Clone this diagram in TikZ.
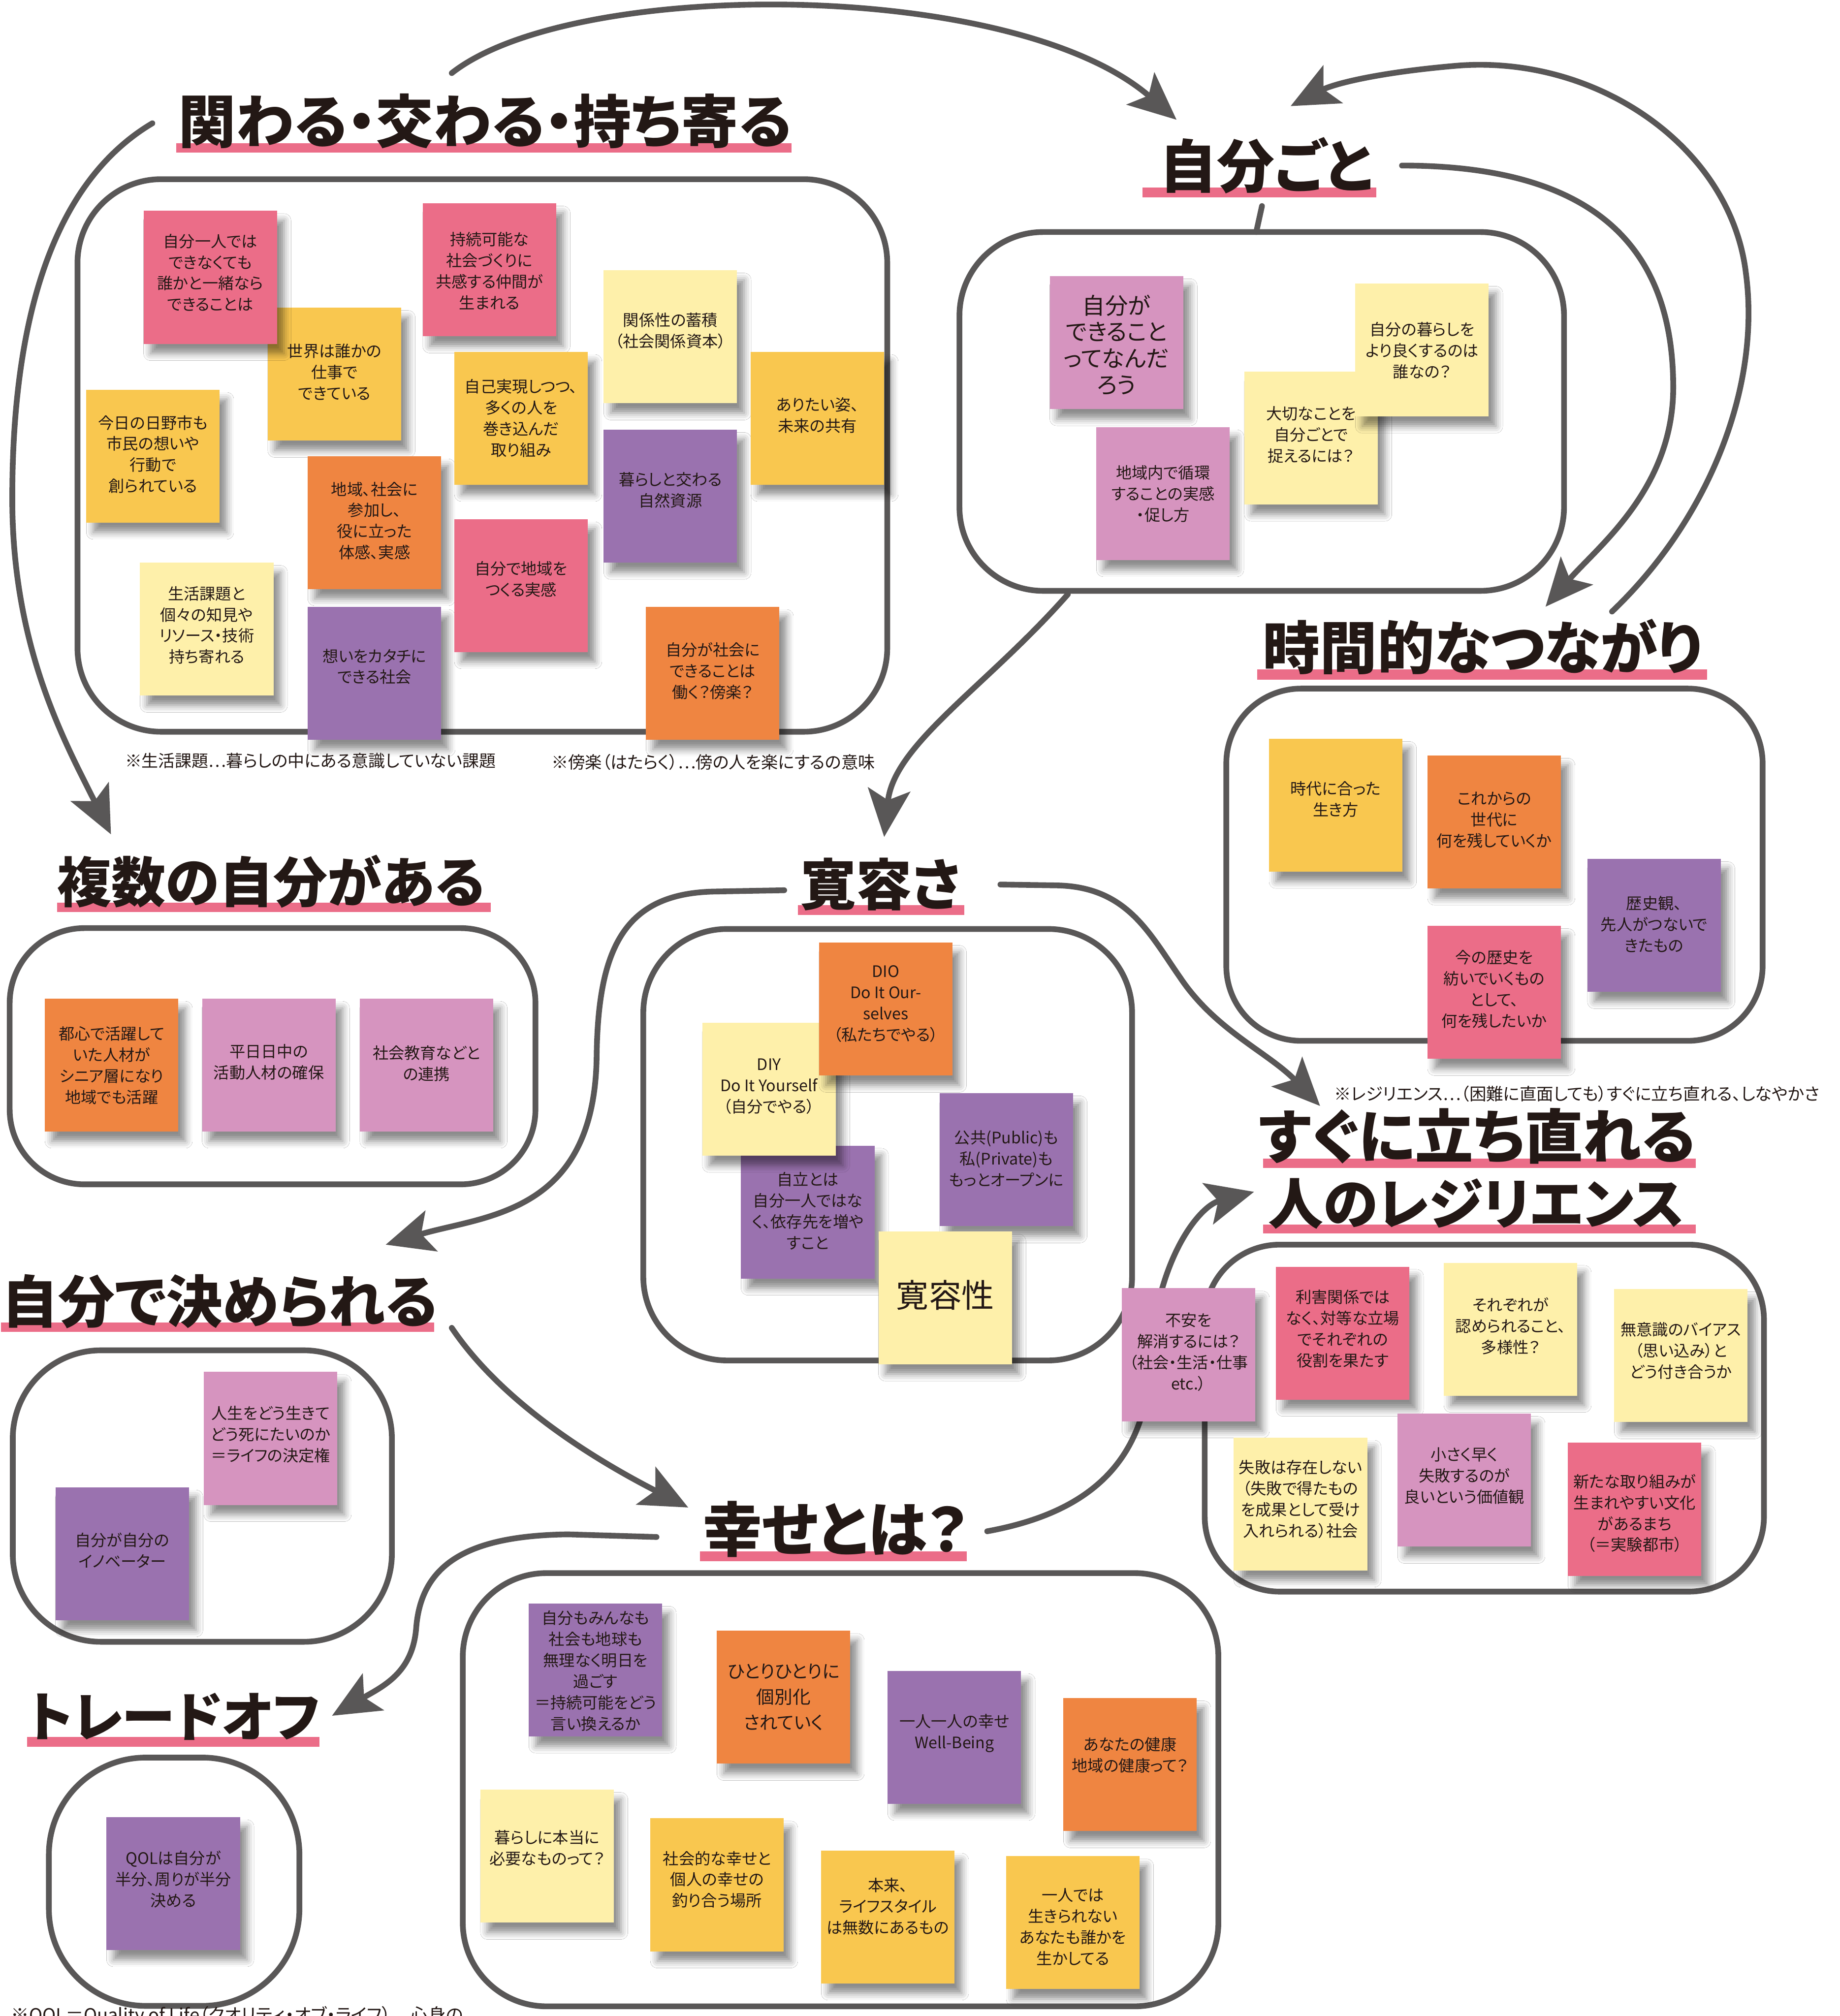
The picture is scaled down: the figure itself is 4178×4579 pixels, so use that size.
\documentclass[tikz,border=0pt]{standalone}
\usepackage{fontspec}
\usepackage{graphicx}
\newfontfamily\jp[RawFeature={+palt}]{Noto Sans CJK JP}
\usetikzlibrary{fit,shadows.blur,arrows.meta}
\definecolor{lineg}{HTML}{595757}
\definecolor{ink}{HTML}{231815}
\definecolor{npink}{HTML}{EB6D88}
\definecolor{nyel}{HTML}{F9C74F}
\definecolor{nlyel}{HTML}{FEF0AA}
\definecolor{norg}{HTML}{EF8541}
\definecolor{npur}{HTML}{9A72AF}
\definecolor{nmau}{HTML}{D694BF}
\tikzset{
  notebox/.style={inner sep=0pt, outer sep=0pt, draw=none,
    blur shadow={shadow xshift=8pt, shadow yshift=-11pt, shadow blur radius=8pt, shadow opacity=45}},
  nt/.style={align=center, inner sep=0pt, text=ink, font=\jp\fontsize{18}{24}\selectfont},
  ntbig/.style={font=\jp\fontsize{26}{30}\selectfont},
  ntmid/.style={font=\jp\fontsize{20.5}{29}\selectfont},
  nthuge/.style={font=\jp\fontsize{37}{40}\selectfont},
  grpbox/.style={draw=lineg, line width=6.5pt, inner sep=0pt, outer sep=0pt},
  hdt/.style={inner sep=0pt, text=ink, font=\jp\bfseries\fontsize{60}{60}\selectfont},
  fn/.style={inner sep=0pt, text=ink, font=\jp\fontsize{18}{20}\selectfont},
  con/.style={draw=lineg, line width=6.5pt, line cap=round,
    -{Stealth[length=54pt,width=48pt,inset=12pt]}},
  conl/.style={draw=lineg, line width=6.5pt, line cap=round},
}
\newcommand\stk[7]{%
  \pgfmathsetmacro\sxr{#2+303}\pgfmathsetmacro\syb{#3+302}\pgfmathsetmacro\sxc{#2+151.5}%
  \node[notebox, fill=#4, fit={(#2,#3) (\sxr,\syb)}] (#1) {};
  \node[nt,#6] (#1t) at (\sxc,#5) {#7};}
\newcommand\grp[6][95]{\node[grpbox, rounded corners=#1pt, fit={(#3,#4) (#5,#6)}] (#2) {};}
\newcommand\hd[8]{%
  \fill[npink] (#4,#3) rectangle (#5,#6);
  \pgfmathsetmacro\hw{#7*0.5}%
  \node[hdt, anchor=base west] (#1) at (#2,#3) {\resizebox{\hw pt}{!}{#8}};}
\begin{document}
\begin{tikzpicture}[x=0.5pt,y=-0.5pt]
\useasboundingbox (0,0) rectangle (4178,4579);
\fill[white] (0,0) rectangle (4178,4579);
% group boxes
\grp{B1}{176}{407}{2015}{1662}
\grp{B2}{2179}{527}{3552}{1342}
\grp[85]{B3}{2785}{1564}{4003}{2364}
\grp[85]{B4}{22}{2108}{1216}{2690}
\grp{B5}{1461}{2110}{2571}{3090}
\grp[100]{B6}{29}{3067}{890}{3729}
\grp[85]{B7}{2736}{2827}{4006}{3615}
\grp{B8}{1051}{3573}{2767}{4557}
\grp[110]{B9}{111}{3992}{680}{4556}
% connectors
\coordinate (k1s) at (1026,166); \coordinate (k1e) at (2672,272);
\draw[con] (k1s) .. controls (1300,-50) and (2300,-50) .. (k1e);
\coordinate (k2s) at (3661,1389); \coordinate (k2e) at (2931,241);
\draw[con] (k2s) .. controls (3880,1180) and (4000,880) .. (3965,620) .. controls (3930,330) and (3620,120) .. (3300,150) .. controls (3130,165) and (3030,190) .. (k2e);
\coordinate (k3s) at (3184,376); \coordinate (k3e) at (3510,1378);
\draw[con] (k3s) .. controls (3620,376) and (3800,560) .. (3800,880) .. controls (3800,1110) and (3630,1240) .. (k3e);
\coordinate (k4s) at (346,280); \coordinate (k4e) at (252,1895);
\draw[con] (k4s) .. controls (110,420) and (25,750) .. (28,1150) .. controls (32,1480) and (150,1690) .. (k4e);
\coordinate (k5s) at (2425,1350); \coordinate (k5e) at (2008,1901);
\draw[con] (k5s) .. controls (2240,1560) and (2030,1690) .. (k5e);
\coordinate (k6s) at (1781,2022); \coordinate (k6e) at (876,2827);
\draw[con] (k6s) -- (1620,2025) .. controls (1420,2030) and (1358,2150) .. (1355,2400) .. controls (1350,2760) and (1100,2760) .. (k6e);
\coordinate (k7s) at (2272,2009); \coordinate (k7e) at (2998,2512);
\draw[con] (k7s) -- (2400,2011) .. controls (2560,2014) and (2610,2120) .. (2680,2220) .. controls (2760,2340) and (2880,2390) .. (k7e);
\coordinate (k8s) at (1026,3016); \coordinate (k8e) at (1563,3424);
\draw[con] (k8s) .. controls (1150,3200) and (1380,3330) .. (k8e);
\coordinate (k9s) at (1491,3491); \coordinate (k9e) at (754,3897);
\draw[con] (k9s) -- (1290,3485) .. controls (1050,3488) and (955,3560) .. (945,3700) .. controls (936,3800) and (870,3830) .. (k9e);
\coordinate (k10s) at (2242,3478); \coordinate (k10e) at (2848,2707);
\draw[con] (k10s) .. controls (2450,3440) and (2600,3340) .. (2612,3100) .. controls (2622,2870) and (2720,2740) .. (k10e);
\coordinate (k11s) at (2866,468); \coordinate (k11e) at (2853,527);
\draw[conl] (k11s) -- (k11e);
% box 1
\stk{a2}{608}{699}{nyel}{845}{}{世界は誰かの\\仕事で\\できている}
\stk{a1}{326}{479}{npink}{619}{}{自分一人では\\できなくても\\誰かと一緒なら\\できることは}
\stk{a3}{196}{885}{nyel}{1032}{}{今日の日野市も\\市民の想いや\\行動で\\創られている}
\stk{a4}{318}{1278}{nlyel}{1420}{}{生活課題と\\個々の知見や\\リソース・技術\\持ち寄れる}
\stk{a5}{699}{1036}{norg}{1183}{}{地域、社会に\\参加し、\\役に立った\\体感、実感}
\stk{a6}{699}{1378}{npur}{1514}{}{想いをカタチに\\できる社会}
\stk{a7}{960}{462}{npink}{615}{}{持続可能な\\社会づくりに\\共感する仲間が\\生まれる}
\stk{a8}{1032}{799}{nyel}{950}{}{自己実現しつつ、\\多くの人を\\巻き込んだ\\取り組み}
\stk{a9}{1032}{1179}{npink}{1315}{}{自分で地域を\\つくる実感}
\stk{a10}{1371}{614}{nlyel}{751}{}{関係性の蓄積\\（社会関係資本）}
\stk{a11}{1371}{976}{npur}{1113}{}{暮らしと交わる\\自然資源}
\stk{a12}{1705}{799}{nyel}{943}{}{ありたい姿、\\未来の共有}
\stk{a13}{1467}{1378}{norg}{1524}{}{自分が社会に\\できることは\\働く？傍楽？}
% box 2
\stk{b1}{2384}{627}{nmau}{783}{ntbig}{自分が\\できること\\ってなんだ\\ろう}
\stk{b2}{2490}{970}{nmau}{1122}{}{地域内で循環\\することの実感\\・促し方}
\stk{b3}{2826}{844}{nlyel}{987}{}{大切なことを\\自分ごとで\\捉えるには？}
\stk{b4}{3078}{644}{nlyel}{796}{}{自分の暮らしを\\より良くするのは\\誰なの？}
% time box
\stk{c1}{2882}{1678}{nyel}{1815}{}{時代に合った\\生き方}
\stk{c2}{3242}{1716}{norg}{1862}{}{これからの\\世代に\\何を残していくか}
\stk{c3}{3605}{1951}{npur}{2099}{}{歴史観、\\先人がつないで\\きたもの}
\stk{c4}{3242}{2103}{npink}{2247}{}{今の歴史を\\紡いでいくもの\\として、\\何を残したいか}
% multiple selves
\stk{d1}{102}{2268}{norg}{2420}{}{都心で活躍して\\いた人材が\\シニア層になり\\地域でも活躍}
\stk{d2}{459}{2268}{nmau}{2412}{}{平日日中の\\活動人材の確保}
\stk{d3}{817}{2268}{nmau}{2416}{}{社会教育などと\\の連携}
% tolerance
\stk{e3}{1683}{2602}{npur}{2750}{}{自立とは\\自分一人ではな\\く、依存先を増や\\すこと}
\stk{e1}{1595}{2323}{nlyel}{2467}{}{DIY\\Do It Yourself\\（自分でやる）}
\stk{e2}{1860}{2141}{norg}{2280}{}{DIO\\Do It Our-\\selves\\（私たちでやる）}
\stk{e4}{2134}{2483}{npur}{2631}{}{公共(Public)も\\私(Private)も\\もっとオープンに}
\stk{e5}{1995}{2797}{nlyel}{2942}{nthuge}{寛容性}
% decide
\stk{f1}{463}{3116}{nmau}{3258}{}{人生をどう生きて\\どう死にたいのか\\＝ライフの決定権}
\stk{f2}{126}{3378}{npur}{3522}{}{自分が自分の\\イノベーター}
% resilience
\stk{g1}{2548}{2926}{nmau}{3071}{}{不安を\\解消するには？\\（社会・生活・仕事\\etc.）}
\stk{g2}{2898}{2877}{npink}{3018}{}{利害関係では\\なく、対等な立場\\でそれぞれの\\役割を果たす}
\stk{g3}{3279}{2868}{nlyel}{3012}{}{それぞれが\\認められること、\\多様性？}
\stk{g4}{3666}{2928}{nlyel}{3068}{}{無意識のバイアス\\（思い込み）と\\どう付き合うか}
\stk{g5}{2802}{3265}{nlyel}{3405}{}{失敗は存在しない\\（失敗で得たもの\\を成果として受け\\入れられる）社会}
\stk{g6}{3174}{3211}{nmau}{3352}{}{小さく早く\\失敗するのが\\良いという価値観}
\stk{g7}{3561}{3277}{npink}{3437}{}{新たな取り組みが\\生まれやすい文化\\があるまち\\（＝実験都市）}
% happiness
\stk{h1}{1201}{3642}{npur}{3795}{}{自分もみんなも\\社会も地球も\\無理なく明日を\\過ごす\\＝持続可能をどう\\言い換えるか}
\stk{h2}{1628}{3704}{norg}{3855}{ntmid}{ひとりひとりに\\個別化\\されていく}
\stk{h3}{2016}{3795}{npur}{3937}{}{一人一人の幸せ\\Well-Being}
\stk{h4}{2415}{3857}{norg}{3986}{}{あなたの健康\\地域の健康って？}
\stk{h5}{1091}{4065}{nlyel}{4197}{}{暮らしに本当に\\必要なものって？}
\stk{h6}{1477}{4130}{nyel}{4269}{}{社会的な幸せと\\個人の幸せの\\釣り合う場所}
\stk{h7}{1865}{4203}{nyel}{4330}{}{本来、\\ライフスタイル\\は無数にあるもの}
\stk{h8}{2285}{4216}{nyel}{4376}{}{一人では\\生きられない\\あなたも誰かを\\生かしてる}
% trade-off
\stk{i1}{242}{4127}{npur}{4268}{}{QOLは自分が\\半分、周りが半分\\決める}
% headings
\hd{H1}{405}{325}{400}{1798}{347}{1393}{関わる・交わる・持ち寄る}
\hd{H2}{2633}{426}{2595}{3126}{448}{484}{自分ごと}
\hd{H3}{2868}{1520}{2855}{3877}{1544}{998}{時間的なつながり}
\hd{H4}{130}{2050}{130}{1115}{2072}{971}{複数の自分がある}
\hd{H5}{1818}{2056}{1812}{2190}{2078}{363}{寛容さ}
\hd{H6}{4}{3004}{2}{986}{3025}{989}{自分で決められる}
\hd{H7}{2858}{2631}{2869}{3851}{2653}{992}{すぐに立ち直れる}
\hd{H8}{2880}{2781}{2869}{3851}{2802}{945}{人のレジリエンス}
\hd{H9}{1595}{3524}{1590}{2196}{3546}{604}{幸せとは？}
\hd{H10}{63}{3945}{61}{726}{3967}{663}{トレードオフ}
% footnotes
\node[fn] (fn1) at (705,1728) {\resizebox{421pt}{!}{※生活課題⋯暮らしの中にある意識していない課題}};
\node[fn] (fn2) at (1620,1731) {\resizebox{367.5pt}{!}{※傍楽（はたらく）⋯傍の人を楽にするの意味}};
\node[fn] (fn3) at (3581,2484) {\resizebox{551pt}{!}{※レジリエンス⋯（困難に直面しても）すぐに立ち直れる、しなやかさ}};
\node[fn, anchor=north west] (fn4) at (25,4556) {\resizebox{513.5pt}{!}{※QOL＝Quality of Life（クオリティ・オブ・ライフ）⋯心身の}};
\end{tikzpicture}
\end{document}
